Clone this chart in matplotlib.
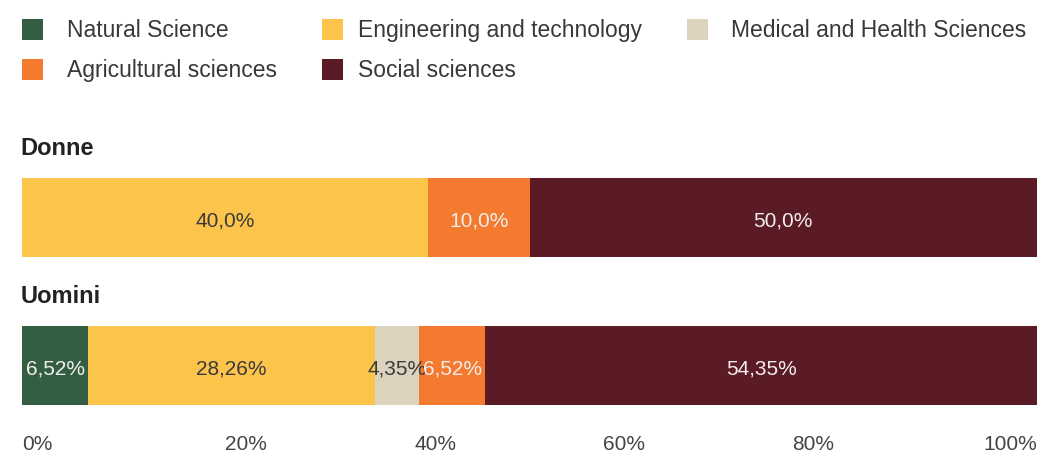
import matplotlib
matplotlib.use("Agg")
import matplotlib.pyplot as plt
from matplotlib.patches import Rectangle

# ---- data -------------------------------------------------------------
groups = ["Donne", "Uomini"]
group_decimals = [1, 2]
categories = [
    "Natural Science",
    "Engineering and technology",
    "Medical and Health Sciences",
    "Agricultural sciences",
    "Social sciences",
]
donne = [0.0, 40.0, 0.0, 10.0, 50.0]
uomini = [6.52, 28.26, 4.35, 6.52, 54.35]
tick_labels = ["0%", "20%", "40%", "60%", "80%", "100%"]

# ---- style ------------------------------------------------------------
colors = ["#335e42", "#fcc44b", "#dbd3be", "#f47a2f", "#5b1b25"]
label_colors = ["#f3eded", "#3a3a3a", "#3a3a3a", "#f3eded", "#f3eded"]
FONT = "Liberation Sans"
plt.rcParams["font.family"] = [FONT, "DejaVu Sans"]

W, H = 1041, 453
fig = plt.figure(figsize=(W / 100, H / 100), dpi=100)
fig.patch.set_facecolor("white")


def fx(px):
    return px / W


def fy(py):
    return 1 - py / H


# ---- legend -----------------------------------------------------------
sq = 21
col_square_x = [22, 322, 687]
col_text_x = [67, 357.5, 731]
row_square_top = [19, 59]
row_baseline = [37.3, 77.3]
for k, (name, c) in enumerate(zip(categories, colors)):
    r, col = divmod(k, 3)
    fig.add_artist(Rectangle((fx(col_square_x[col]), fy(row_square_top[r] + sq)),
                             sq / W, sq / H, transform=fig.transFigure,
                             facecolor=c, edgecolor="none"))
    fig.text(fx(col_text_x[col]), fy(row_baseline[r]), name,
             fontsize=16.5, color="#383838", ha="left", va="baseline")

# ---- stacked bars -----------------------------------------------------
bar_top, bar_bottom = 177.7, 405
ax = fig.add_axes([fx(22), fy(bar_bottom), (1037 - 22) / W, (bar_bottom - bar_top) / H])
bar_h = 0.533
ax.set_xlim(0, 100)
ax.set_ylim(1 + bar_h / 2, -bar_h / 2)
ax.axis("off")

series = [donne, uomini]
for i, (g, vals, dec) in enumerate(zip(groups, series, group_decimals)):
    left = 0.0
    for j, v in enumerate(vals):
        if v <= 0:
            continue
        ax.barh(i, v, left=left, height=bar_h, color=colors[j], linewidth=0)
        txt = f"{v:.{dec}f}%".replace(".", ",")
        ax.annotate(txt, xy=(left + v / 2, i), xycoords="data",
                    xytext=(0, -2.5), textcoords="offset points",
                    ha="center", va="center", fontsize=15,
                    color=label_colors[j], annotation_clip=False)
        left += v
    ax.annotate(g, xy=(0, i - bar_h / 2), xycoords="data",
                xytext=(-1.0, 16.3), textcoords="offset points",
                ha="left", va="baseline", fontsize=17, fontweight="bold",
                color="#222222")

# ---- axis labels (fixed-width boxes spread across the full width) ----
n = len(tick_labels)
box_w = 0.07
for i, lab in enumerate(tick_labels):
    if i == 0:
        x, ha = 0.0, "left"
    elif i == n - 1:
        x, ha = 1.0, "right"
    else:
        x, ha = box_w / 2 + i * (1 - box_w) / (n - 1), "center"
    ax.annotate(lab, xy=(x, 0), xycoords="axes fraction",
                xytext=(0, -32.3), textcoords="offset points",
                ha=ha, va="baseline", fontsize=15, color="#444444")

fig.savefig("out.png", dpi=100, facecolor="white")
